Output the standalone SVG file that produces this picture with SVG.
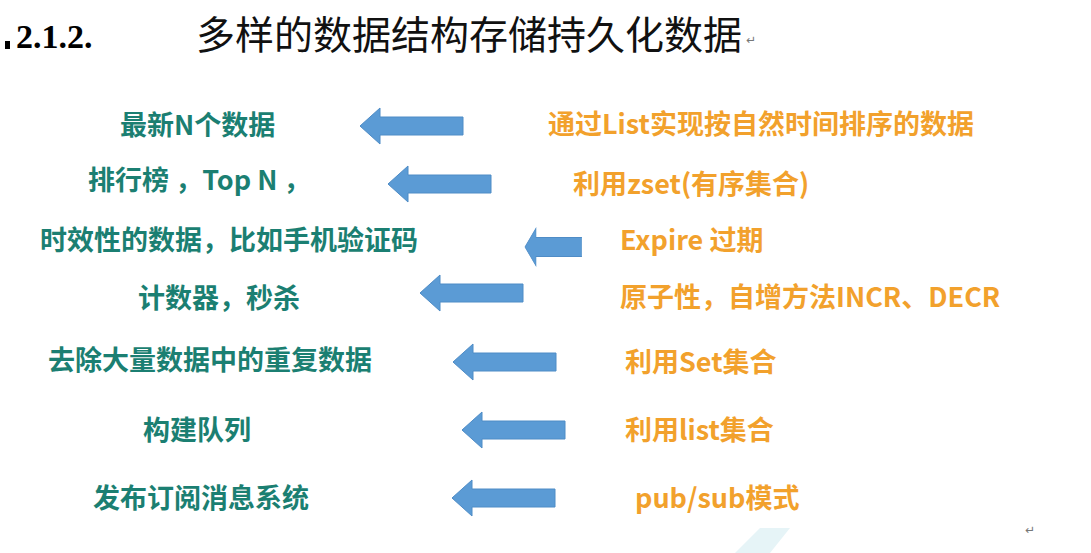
<svg xmlns="http://www.w3.org/2000/svg" width="1091" height="553" viewBox="0 0 1091 553">
<style>
.l{font-family:"Noto Sans CJK SC","Liberation Sans",sans-serif;font-weight:bold;font-size:27px;fill:#1b7f72}
.r{font-family:"Noto Sans CJK SC","Liberation Sans",sans-serif;font-weight:bold;font-size:27px;fill:#f2a12c}
.ar{fill:#5b9bd5;stroke:#4f8cc6;stroke-width:1}
.mk{font-family:"DejaVu Sans",sans-serif;font-size:12px;fill:#777}
</style>
<defs>
<path id="arr" d="M0,0 L20,-18 L20,-9 L103,-9 L103,9 L20,9 L20,18 Z"/>
</defs>
<rect width="1091" height="553" fill="#ffffff"/>
<polygon points="735,553 760,528 790,528 770,553" fill="#e6f4f7"/>
<g id="title">
<rect x="5" y="41" width="5" height="8" fill="#000"/>
<text x="16" y="48" font-family="Liberation Serif,serif" font-weight="bold" font-size="34" fill="#000">2.1.2.</text>
<text x="196" y="49" font-family="Noto Sans CJK SC,sans-serif" font-size="39" fill="#111">多样的数据结构存储持久化数据</text>
<text x="746" y="44" class="mk">↵</text>
</g>
<g id="connectors">
<use href="#arr" class="ar" transform="translate(360,126)"/>
<use href="#arr" class="ar" transform="translate(388,184)"/>
<use href="#arr" class="ar" transform="translate(525,247) scale(0.55,1.05)"/>
<use href="#arr" class="ar" transform="translate(420,293)"/>
<use href="#arr" class="ar" transform="translate(453,362)"/>
<use href="#arr" class="ar" transform="translate(462,430)"/>
<use href="#arr" class="ar" transform="translate(452,498)"/>
</g>
<g id="n1"><text class="l" x="120" y="135">最新N个数据</text><text class="r" x="548" y="134">通过List实现按自然时间排序的数据</text></g>
<g id="n2"><text class="l" x="88" y="190">排行榜 ，Top N ，</text><text class="r" x="573" y="194">利用zset(有序集合)</text></g>
<g id="n3"><text class="l" x="40" y="250">时效性的数据，比如手机验证码</text><text class="r" x="620" y="250">Expire 过期</text></g>
<g id="n4"><text class="l" x="138" y="308">计数器，秒杀</text><text class="r" x="620" y="307">原子性，自增方法INCR、DECR</text></g>
<g id="n5"><text class="l" x="48" y="370">去除大量数据中的重复数据</text><text class="r" x="625" y="372">利用Set集合</text></g>
<g id="n6"><text class="l" x="143" y="440">构建队列</text><text class="r" x="625" y="440">利用list集合</text></g>
<g id="n7"><text class="l" x="93" y="508">发布订阅消息系统</text><text class="r" x="635" y="508">pub/sub模式</text></g>
<text x="1025" y="534" class="mk">↵</text>
</svg>
